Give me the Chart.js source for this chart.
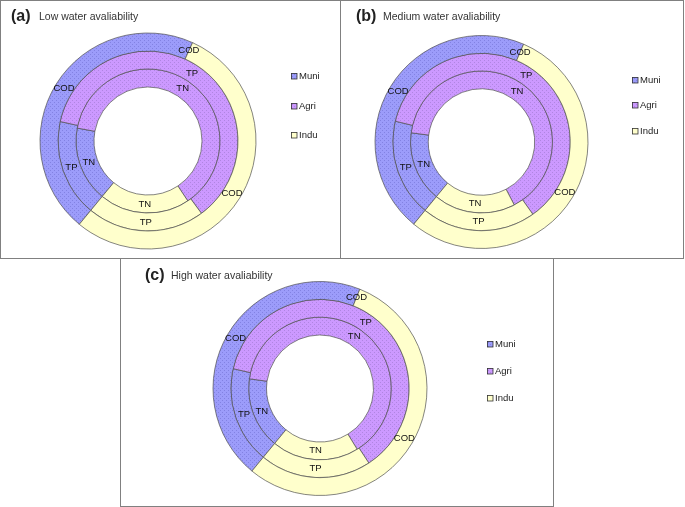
<!DOCTYPE html>
<html>
<head>
<meta charset="utf-8">
<script src="https://cdn.jsdelivr.net/npm/chart.js@4.4.0/dist/chart.umd.min.js"></script>
<style>
body { margin: 0; background: #fff; width: 685px; height: 507px; position: relative; overflow: hidden; font-family: "Liberation Sans", Arial, sans-serif; }
canvas { position: absolute; }
.frame { position: absolute; border: 1px solid #808080; box-sizing: border-box; pointer-events: none; }
.tag { position: absolute; font-size: 16px; font-weight: bold; color: #222; line-height: 16px; white-space: nowrap; }
.sub { position: absolute; font-size: 10.5px; color: #333; line-height: 10px; white-space: nowrap; }
</style>
</head>
<body>

<canvas id="chartA" width="340" height="258" style="left:0;top:0"></canvas>
<canvas id="chartB" width="344" height="258" style="left:340px;top:0"></canvas>
<canvas id="chartC" width="433" height="248" style="left:120px;top:258px"></canvas>

<div class="frame" style="left:0;top:0;width:341px;height:259px"></div>
<div class="frame" style="left:340px;top:0;width:344px;height:259px"></div>
<div class="frame" style="left:120px;top:258px;width:434px;height:249px"></div>

<div class="tag" style="left:11px;top:8px">(a)</div>
<div class="sub" style="left:39px;top:11px">Low water avaliability</div>
<div class="tag" style="left:356px;top:8px">(b)</div>
<div class="sub" style="left:383px;top:11px">Medium water avaliability</div>
<div class="tag" style="left:145px;top:267px">(c)</div>
<div class="sub" style="left:171px;top:270px">High water avaliability</div>

<script>
// sources and pollutant rings (outer -> inner)
const sources = ['Muni', 'Agri', 'Indu'];
const rings = ['COD', 'TP', 'TN'];

// shares in percent (Muni, Agri, Indu)
const lowCOD = [45.8, 0, 54.2];
const lowTP = [17.5, 61.4, 21.1];
const lowTN = [16.9, 62.8, 20.3];

const medCOD = [45.5, 0, 54.5];
const medTP = [17.8, 61.4, 20.8];
const medTN = [16.1, 65.3, 18.6];

const highCOD = [45.1, 0, 54.9];
const highTP = [17.6, 62.2, 20.2];
const highTN = [16.2, 64.1, 19.7];

function dotted(base, dot) {
    const c = document.createElement('canvas');
    c.width = 4; c.height = 4;
    const g = c.getContext('2d');
    g.fillStyle = base;
    g.fillRect(0, 0, 4, 4);
    g.fillStyle = dot;
    g.fillRect(0, 0, 1, 1);
    g.fillRect(2, 2, 1, 1);
    return g.createPattern(c, 'repeat');
}

const fills = [
    dotted('#9c9cfa', '#8282e2'),
    dotted('#cc99ff', '#b085e2'),
    '#ffffcc'
];

// text on every slice (series name) at the middle of the arc
const sliceLabels = {
    id: 'sliceLabels',
    afterDatasetsDraw(chart) {
        const ctx = chart.ctx;
        ctx.save();
        ctx.font = '9.5px "Liberation Sans", Arial, sans-serif';
        ctx.fillStyle = '#111';
        ctx.textAlign = 'center';
        ctx.textBaseline = 'middle';
        chart.data.datasets.forEach((ds, i) => {
            chart.getDatasetMeta(i).data.forEach(arc => {
                const a = (arc.startAngle + arc.endAngle) / 2;
                const r = (arc.innerRadius + arc.outerRadius) / 2;
                ctx.fillText(ds.label, arc.x + Math.cos(a) * r, arc.y + Math.sin(a) * r);
            });
        });
        ctx.restore();
    }
};

// small square legend on the right
const sideLegend = {
    id: 'sideLegend',
    afterDraw(chart, args, opts) {
        const ctx = chart.ctx;
        ctx.save();
        ctx.font = '9.5px "Liberation Sans", Arial, sans-serif';
        ctx.textBaseline = 'middle';
        chart.data.labels.forEach((lab, i) => {
            const y = opts.ys[i];
            ctx.fillStyle = fills[i];
            ctx.fillRect(opts.x, y - 3, 6, 6);
            ctx.strokeStyle = '#333';
            ctx.lineWidth = 0.8;
            ctx.strokeRect(opts.x + 0.5, y - 2.5, 5.5, 5.5);
            ctx.fillStyle = '#222';
            ctx.fillText(lab, opts.x + 8, y);
        });
        ctx.restore();
    }
};

function makeDoughnut(id, cod, tp, tn, radius, padding, legend) {
    const values = [cod, tp, tn];
    new Chart(document.getElementById(id), {
        type: 'doughnut',
        data: {
            labels: sources,
            datasets: rings.map((name, i) => ({
                label: name,
                data: values[i],
                backgroundColor: fills,
                borderColor: '#505050',
                borderWidth: 0.7
            }))
        },
        options: {
            responsive: false,
            animation: false,
            events: [],
            rotation: 219.5,
            cutout: '50%',
            radius: radius,
            layout: { padding: padding },
            plugins: {
                legend: { display: false },
                tooltip: { enabled: false },
                sideLegend: legend
            }
        },
        plugins: [sliceLabels, sideLegend]
    });
}

makeDoughnut('chartA', lowCOD, lowTP, lowTN, 108,
    { left: 40, right: 84, top: 33, bottom: 9 },
    { x: 291, ys: [76, 106, 135] });

makeDoughnut('chartB', medCOD, medTP, medTN, 106.5,
    { left: 35, right: 96, top: 35.5, bottom: 9.5 },
    { x: 292, ys: [80, 105, 131] });

makeDoughnut('chartC', highCOD, highTP, highTN, 107,
    { left: 93, right: 126, top: 23.5, bottom: 10.5 },
    { x: 367, ys: [86, 113, 140] });
</script>
</body>
</html>
